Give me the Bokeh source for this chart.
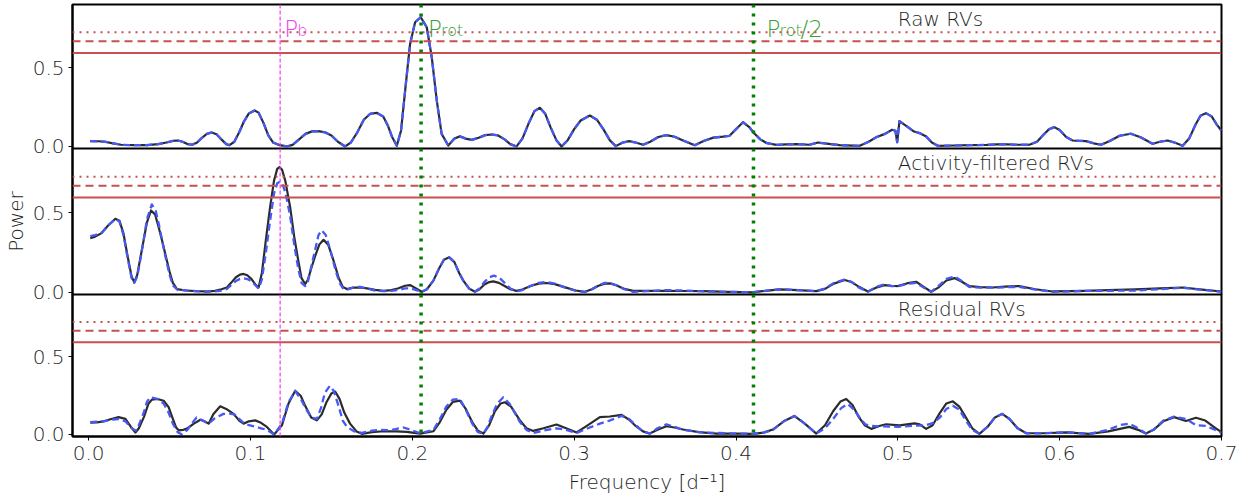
from bokeh.plotting import figure
from bokeh.layouts import column
from bokeh.models import FixedTicker, PrintfTickFormatter, Span, Range1d
from bokeh.core.properties import value
from bokeh.embed import file_html
from bokeh.resources import INLINE

# ---------------- data ----------------
# Raw RVs (both curves coincide)
raw = [(0.001, 0.034), (0.006, 0.033), (0.010, 0.030), (0.015, 0.020), (0.020, 0.011), (0.028, 0.008),
       (0.036, 0.008), (0.043, 0.015), (0.048, 0.025), (0.052, 0.035), (0.055, 0.038), (0.058, 0.030),
       (0.061, 0.015), (0.064, 0.011), (0.067, 0.025), (0.070, 0.055), (0.073, 0.080), (0.076, 0.089),
       (0.079, 0.078), (0.082, 0.045), (0.085, 0.015), (0.087, 0.008), (0.090, 0.030), (0.093, 0.090),
       (0.096, 0.160), (0.099, 0.210), (0.1025, 0.229), (0.105, 0.215), (0.108, 0.150), (0.111, 0.070),
       (0.114, 0.025), (0.118, 0.008), (0.1225, 0.000), (0.126, 0.010), (0.130, 0.045), (0.134, 0.080),
       (0.138, 0.096), (0.142, 0.097), (0.146, 0.090), (0.150, 0.070), (0.154, 0.030), (0.1585, 0.000),
       (0.162, 0.025), (0.166, 0.090), (0.170, 0.170), (0.174, 0.208), (0.178, 0.214), (0.182, 0.190),
       (0.185, 0.130), (0.1875, 0.060), (0.1904, 0.004), (0.193, 0.100), (0.196, 0.400), (0.1986, 0.652),
       (0.2017, 0.790), (0.2052, 0.822), (0.2089, 0.758), (0.212, 0.567), (0.2151, 0.292), (0.2181, 0.080),
       (0.2222, 0.006), (0.226, 0.050), (0.2294, 0.064), (0.233, 0.050), (0.2367, 0.042), (0.241, 0.055),
       (0.245, 0.072), (0.249, 0.076), (0.253, 0.070), (0.257, 0.045), (0.2605, 0.015), (0.2644, 0.000),
       (0.268, 0.050), (0.272, 0.150), (0.2755, 0.225), (0.2788, 0.246), (0.282, 0.210), (0.2855, 0.120),
       (0.289, 0.040), (0.2922, 0.000), (0.296, 0.040), (0.300, 0.110), (0.304, 0.165), (0.3097, 0.197),
       (0.314, 0.170), (0.318, 0.110), (0.322, 0.040), (0.3257, 0.002), (0.330, 0.025), (0.334, 0.034),
       (0.338, 0.025), (0.3426, 0.011), (0.347, 0.030), (0.352, 0.060), (0.357, 0.072), (0.362, 0.062),
       (0.368, 0.035), (0.3745, 0.008), (0.380, 0.035), (0.386, 0.056), (0.392, 0.062), (0.396, 0.068),
       (0.400, 0.110), (0.4043, 0.154), (0.408, 0.125), (0.4115, 0.081), (0.415, 0.045), (0.4188, 0.022),
       (0.425, 0.010), (0.431, 0.013), (0.4373, 0.015), (0.4455, 0.011), (0.4506, 0.025), (0.456, 0.018),
       (0.464, 0.008), (0.4764, 0.004), (0.482, 0.030), (0.4867, 0.059), (0.492, 0.080), (0.4965, 0.106),
       (0.4985, 0.100), (0.4996, 0.027), (0.501, 0.161), (0.506, 0.125), (0.510, 0.095), (0.5134, 0.085),
       (0.5175, 0.064), (0.521, 0.025), (0.5247, 0.004), (0.535, 0.006), (0.544, 0.008), (0.555, 0.010),
       (0.5647, 0.015), (0.573, 0.011), (0.5813, 0.011), (0.586, 0.030), (0.590, 0.075), (0.5935, 0.110),
       (0.5967, 0.123), (0.600, 0.105), (0.604, 0.060), (0.608, 0.038), (0.612, 0.036), (0.6163, 0.034),
       (0.621, 0.020), (0.6256, 0.011), (0.631, 0.035), (0.637, 0.068), (0.644, 0.081), (0.650, 0.058),
       (0.6574, 0.017), (0.662, 0.030), (0.6667, 0.038), (0.671, 0.025), (0.676, 0.004), (0.680, 0.050),
       (0.684, 0.140), (0.687, 0.195), (0.6904, 0.212), (0.694, 0.190), (0.697, 0.140), (0.700, 0.100)]
raw_f = [a for a, _ in raw]
raw_p = [b for _, b in raw]

# Activity-filtered RVs
act_black = [(0.001, 0.340), (0.004, 0.350), (0.008, 0.372), (0.012, 0.420), (0.0165, 0.462), (0.019, 0.450),
             (0.0215, 0.370), (0.024, 0.230), (0.0265, 0.100), (0.0282, 0.063), (0.030, 0.110), (0.032, 0.220),
             (0.034, 0.330), (0.036, 0.440), (0.0385, 0.514), (0.041, 0.490), (0.0432, 0.410), (0.0455, 0.320),
             (0.0473, 0.242), (0.050, 0.130), (0.052, 0.060), (0.0546, 0.021), (0.060, 0.012), (0.066, 0.008),
             (0.073, 0.006), (0.078, 0.010), (0.082, 0.020), (0.0854, 0.031), (0.088, 0.060), (0.091, 0.095),
             (0.0935, 0.112), (0.0957, 0.116), (0.098, 0.108), (0.1005, 0.085), (0.103, 0.050), (0.105, 0.031),
             (0.107, 0.120), (0.1095, 0.330), (0.1121, 0.535), (0.1145, 0.700), (0.1165, 0.775), (0.1179, 0.787),
             (0.1195, 0.770), (0.1215, 0.700), (0.1245, 0.535), (0.127, 0.350), (0.1295, 0.200), (0.1315, 0.090),
             (0.1338, 0.053), (0.1355, 0.080), (0.1375, 0.150), (0.140, 0.230), (0.1425, 0.300), (0.1451, 0.330),
             (0.148, 0.300), (0.1513, 0.200), (0.1545, 0.090), (0.157, 0.035), (0.1595, 0.021), (0.1635, 0.030),
             (0.1677, 0.031), (0.172, 0.025), (0.177, 0.016), (0.1821, 0.010), (0.187, 0.015), (0.191, 0.025),
             (0.1955, 0.042), (0.1985, 0.046), (0.2015, 0.030), (0.2058, 0.004), (0.209, 0.020), (0.213, 0.074),
             (0.2165, 0.150), (0.2195, 0.205), (0.2228, 0.220), (0.226, 0.190), (0.229, 0.120), (0.2315, 0.074),
             (0.235, 0.025), (0.2387, 0.004), (0.2415, 0.020), (0.2445, 0.050), (0.2475, 0.065), (0.250, 0.069),
             (0.2535, 0.060), (0.257, 0.040), (0.2605, 0.020), (0.2644, 0.010), (0.268, 0.018), (0.273, 0.040),
             (0.278, 0.055), (0.2829, 0.059), (0.288, 0.052), (0.295, 0.030), (0.301, 0.012), (0.3066, 0.004),
             (0.311, 0.020), (0.315, 0.042), (0.319, 0.055), (0.322, 0.057), (0.326, 0.045), (0.331, 0.022),
             (0.3364, 0.010), (0.345, 0.010), (0.357, 0.010), (0.368, 0.009), (0.380, 0.008), (0.395, 0.004),
             (0.4105, 0.000), (0.418, 0.010), (0.427, 0.019), (0.438, 0.015), (0.4496, 0.008), (0.455, 0.022),
             (0.4605, 0.055), (0.4671, 0.078), (0.4715, 0.065), (0.476, 0.035), (0.4815, 0.006), (0.4865, 0.030),
             (0.4918, 0.046), (0.496, 0.042), (0.500, 0.040), (0.506, 0.058), (0.5113, 0.067), (0.516, 0.035),
             (0.5206, 0.004), (0.525, 0.030), (0.530, 0.075), (0.535, 0.090), (0.539, 0.070), (0.544, 0.040),
             (0.551, 0.033), (0.5587, 0.031), (0.566, 0.036), (0.575, 0.040), (0.585, 0.020), (0.5957, 0.006),
             (0.606, 0.008), (0.616, 0.010), (0.630, 0.014), (0.647, 0.019), (0.662, 0.026), (0.676, 0.031),
             (0.688, 0.018), (0.700, 0.006)]
act_blue = [(0.001, 0.353), (0.004, 0.360), (0.008, 0.375), (0.012, 0.420), (0.0165, 0.460), (0.019, 0.445),
            (0.0215, 0.360), (0.024, 0.220), (0.0265, 0.090), (0.0282, 0.060), (0.030, 0.100), (0.032, 0.210),
            (0.034, 0.330), (0.036, 0.460), (0.039, 0.552), (0.0415, 0.510), (0.0435, 0.420), (0.0455, 0.320),
            (0.0473, 0.230), (0.050, 0.110), (0.052, 0.045), (0.055, 0.015), (0.060, 0.013), (0.066, 0.008),
            (0.073, 0.004), (0.078, 0.006), (0.082, 0.012), (0.0854, 0.022), (0.088, 0.045), (0.091, 0.072),
            (0.0935, 0.085), (0.0957, 0.088), (0.098, 0.084), (0.1005, 0.070), (0.103, 0.045), (0.105, 0.025),
            (0.107, 0.080), (0.1095, 0.250), (0.1121, 0.450), (0.1145, 0.620), (0.1165, 0.685), (0.1179, 0.693),
            (0.1195, 0.685), (0.1215, 0.630), (0.1245, 0.480), (0.127, 0.300), (0.1295, 0.150), (0.1315, 0.060),
            (0.1338, 0.040), (0.1355, 0.070), (0.1375, 0.160), (0.140, 0.270), (0.142, 0.360), (0.144, 0.389),
            (0.1465, 0.360), (0.1495, 0.260), (0.1525, 0.140), (0.155, 0.060), (0.1575, 0.020), (0.1605, 0.020),
            (0.1645, 0.035), (0.1677, 0.035), (0.172, 0.025), (0.177, 0.012), (0.1821, 0.008), (0.187, 0.010),
            (0.191, 0.015), (0.1955, 0.025), (0.1985, 0.025), (0.2015, 0.018), (0.2058, 0.003), (0.209, 0.020),
            (0.213, 0.074), (0.2165, 0.150), (0.2195, 0.205), (0.2228, 0.220), (0.226, 0.190), (0.229, 0.120),
            (0.2315, 0.074), (0.235, 0.025), (0.2387, 0.006), (0.2415, 0.025), (0.2445, 0.065), (0.2475, 0.095),
            (0.2504, 0.105), (0.2535, 0.095), (0.257, 0.060), (0.2605, 0.025), (0.2644, 0.008), (0.268, 0.015),
            (0.273, 0.040), (0.278, 0.060), (0.2829, 0.065), (0.288, 0.055), (0.295, 0.028), (0.301, 0.010),
            (0.3066, 0.002), (0.311, 0.020), (0.315, 0.045), (0.319, 0.060), (0.322, 0.060), (0.326, 0.045),
            (0.331, 0.020), (0.3364, 0.004), (0.345, 0.008), (0.357, 0.015), (0.368, 0.012), (0.380, 0.006),
            (0.395, 0.003), (0.4105, 0.002), (0.418, 0.010), (0.427, 0.020), (0.438, 0.015), (0.4496, 0.008),
            (0.455, 0.025), (0.4605, 0.060), (0.4671, 0.080), (0.4715, 0.065), (0.476, 0.030), (0.4815, 0.004),
            (0.4865, 0.035), (0.4918, 0.050), (0.496, 0.040), (0.500, 0.038), (0.506, 0.055), (0.5113, 0.060),
            (0.516, 0.030), (0.5206, 0.004), (0.525, 0.040), (0.530, 0.085), (0.535, 0.100), (0.539, 0.075),
            (0.544, 0.035), (0.551, 0.030), (0.5587, 0.030), (0.566, 0.032), (0.575, 0.035), (0.585, 0.018),
            (0.5957, 0.004), (0.606, 0.006), (0.616, 0.010), (0.630, 0.010), (0.647, 0.012), (0.662, 0.020),
            (0.676, 0.030), (0.688, 0.016), (0.700, 0.004)]
act_black_f = [a for a, _ in act_black]
act_black_p = [b for _, b in act_black]
act_blue_f = [a for a, _ in act_blue]
act_blue_p = [b for _, b in act_blue]

# Residual RVs
res_black = [(0.001, 0.076), (0.005, 0.078), (0.0093, 0.085), (0.014, 0.100), (0.0185, 0.112), (0.0227, 0.101),
             (0.026, 0.050), (0.0289, 0.013), (0.031, 0.040), (0.0341, 0.112), (0.037, 0.200), (0.0391, 0.225),
             (0.0425, 0.229), (0.0463, 0.218), (0.0494, 0.176), (0.052, 0.100), (0.054, 0.045), (0.0556, 0.027),
             (0.0585, 0.030), (0.0607, 0.038), (0.065, 0.070), (0.069, 0.095), (0.0715, 0.085), (0.0741, 0.070),
             (0.077, 0.130), (0.0813, 0.182), (0.085, 0.165), (0.0895, 0.133), (0.093, 0.090), (0.0957, 0.070),
             (0.099, 0.085), (0.1029, 0.091), (0.1065, 0.075), (0.1101, 0.049), (0.1146, 0.000), (0.1194, 0.059),
             (0.1235, 0.200), (0.1276, 0.282), (0.131, 0.250), (0.134, 0.180), (0.1375, 0.110), (0.141, 0.091),
             (0.144, 0.130), (0.147, 0.210), (0.150, 0.265), (0.1523, 0.277), (0.155, 0.230), (0.158, 0.140),
             (0.1615, 0.070), (0.1655, 0.020), (0.1688, 0.004), (0.175, 0.015), (0.1823, 0.021), (0.190, 0.020),
             (0.1965, 0.017), (0.2048, 0.006), (0.2131, 0.021), (0.217, 0.080), (0.221, 0.160), (0.225, 0.210),
             (0.2294, 0.218), (0.233, 0.165), (0.237, 0.080), (0.2405, 0.025), (0.2439, 0.006), (0.2475, 0.060),
             (0.251, 0.150), (0.2545, 0.200), (0.2572, 0.208), (0.261, 0.180), (0.2665, 0.091), (0.2705, 0.040),
             (0.2747, 0.023), (0.281, 0.040), (0.2891, 0.064), (0.295, 0.040), (0.3015, 0.013), (0.3085, 0.060),
             (0.3159, 0.112), (0.322, 0.116), (0.3293, 0.127), (0.334, 0.095), (0.338, 0.055), (0.3425, 0.020),
             (0.3467, 0.006), (0.3515, 0.030), (0.357, 0.053), (0.362, 0.045), (0.3673, 0.032), (0.377, 0.015),
             (0.388, 0.006), (0.400, 0.005), (0.4105, 0.004), (0.417, 0.012), (0.4228, 0.032), (0.4295, 0.085),
             (0.4362, 0.119), (0.4425, 0.070), (0.4496, 0.006), (0.455, 0.060), (0.460, 0.150), (0.4645, 0.212),
             (0.4681, 0.229), (0.472, 0.190), (0.476, 0.110), (0.4795, 0.060), (0.4836, 0.036), (0.4885, 0.055),
             (0.4928, 0.066), (0.501, 0.059), (0.5103, 0.072), (0.5135, 0.065), (0.5175, 0.036), (0.5215, 0.060),
             (0.526, 0.140), (0.530, 0.200), (0.534, 0.214), (0.538, 0.180), (0.542, 0.110), (0.546, 0.040),
             (0.5504, 0.004), (0.5555, 0.050), (0.560, 0.110), (0.5645, 0.133), (0.569, 0.100), (0.574, 0.040),
             (0.5794, 0.008), (0.590, 0.008), (0.604, 0.013), (0.6183, 0.004), (0.630, 0.020), (0.643, 0.049),
             (0.6485, 0.030), (0.6533, 0.006), (0.658, 0.030), (0.664, 0.085), (0.6708, 0.112), (0.678, 0.087),
             (0.6842, 0.108), (0.690, 0.090), (0.695, 0.050), (0.700, 0.015)]
res_blue = [(0.001, 0.080), (0.005, 0.082), (0.0093, 0.085), (0.014, 0.095), (0.0185, 0.100), (0.0227, 0.085),
            (0.026, 0.045), (0.029, 0.025), (0.031, 0.060), (0.034, 0.140), (0.036, 0.210), (0.038, 0.240),
            (0.0425, 0.230), (0.0463, 0.200), (0.0494, 0.140), (0.052, 0.070), (0.055, 0.015), (0.0577, 0.000),
            (0.061, 0.030), (0.064, 0.075), (0.0667, 0.110), (0.0705, 0.090), (0.0741, 0.070), (0.078, 0.105),
            (0.0833, 0.133), (0.087, 0.135), (0.090, 0.130), (0.093, 0.100), (0.0957, 0.075), (0.099, 0.060),
            (0.1029, 0.050), (0.1065, 0.040), (0.1101, 0.030), (0.1146, 0.000), (0.1194, 0.070), (0.1235, 0.210),
            (0.1276, 0.280), (0.131, 0.230), (0.134, 0.170), (0.1375, 0.110), (0.141, 0.100), (0.1435, 0.170),
            (0.146, 0.270), (0.149, 0.313), (0.1515, 0.280), (0.1545, 0.180), (0.157, 0.090), (0.1595, 0.050),
            (0.164, 0.020), (0.1688, 0.010), (0.175, 0.025), (0.180, 0.030), (0.1865, 0.028), (0.1945, 0.045),
            (0.199, 0.030), (0.2048, 0.008), (0.2131, 0.030), (0.217, 0.100), (0.221, 0.180), (0.225, 0.225),
            (0.2294, 0.229), (0.233, 0.160), (0.237, 0.070), (0.2405, 0.015), (0.2439, 0.005), (0.2465, 0.050),
            (0.249, 0.120), (0.2525, 0.200), (0.2562, 0.240), (0.260, 0.200), (0.2665, 0.080), (0.2705, 0.030),
            (0.2747, 0.010), (0.281, 0.025), (0.2891, 0.040), (0.295, 0.030), (0.3015, 0.010), (0.3085, 0.040),
            (0.3159, 0.070), (0.322, 0.090), (0.3293, 0.120), (0.334, 0.100), (0.338, 0.060), (0.3425, 0.020),
            (0.3467, 0.005), (0.3515, 0.040), (0.357, 0.065), (0.362, 0.050), (0.3673, 0.030), (0.377, 0.015),
            (0.388, 0.010), (0.400, 0.006), (0.4105, 0.004), (0.417, 0.012), (0.4228, 0.030), (0.4295, 0.085),
            (0.4362, 0.120), (0.4425, 0.070), (0.4496, 0.006), (0.455, 0.040), (0.460, 0.100), (0.465, 0.170),
            (0.469, 0.197), (0.473, 0.160), (0.477, 0.100), (0.480, 0.065), (0.4836, 0.055), (0.490, 0.052),
            (0.500, 0.050), (0.5085, 0.055), (0.5175, 0.060), (0.522, 0.075), (0.526, 0.110), (0.530, 0.165),
            (0.534, 0.186), (0.538, 0.160), (0.542, 0.090), (0.546, 0.030), (0.5504, 0.004), (0.5555, 0.050),
            (0.560, 0.110), (0.5645, 0.133), (0.569, 0.100), (0.574, 0.040), (0.5794, 0.008), (0.590, 0.008),
            (0.604, 0.015), (0.6183, 0.004), (0.630, 0.030), (0.637, 0.060), (0.643, 0.070), (0.6485, 0.040),
            (0.6533, 0.006), (0.658, 0.030), (0.664, 0.090), (0.6708, 0.115), (0.678, 0.100), (0.6842, 0.060),
            (0.690, 0.055), (0.695, 0.035), (0.700, 0.010)]
res_black_f = [a for a, _ in res_black]
res_black_p = [b for _, b in res_black]
res_blue_f = [a for a, _ in res_blue]
res_blue_p = [b for _, b in res_blue]

panel_titles = ["Raw RVs", "Activity-filtered RVs", "Residual RVs"]
fap_levels = [0.595, 0.669, 0.726]          # solid, dashed, dotted
f_planet_b = 0.1183
f_rot = 0.2054
f_rot_half = 0.4108
x_ticks = [0.0, 0.1, 0.2, 0.3, 0.4, 0.5, 0.6, 0.7]
y_ticks = [0.0, 0.5]

# ---------------- style ----------------
FONT = "DejaVu Sans Light, DejaVu Sans"
TXT = "#1e1e1e"
RED = "#c8504e"
BLUE = "#4658f5"
BLACK = "#2b2b2b"
MAGENTA = "#f03cf0"
GREEN_LINE = "#008000"
GREEN_TXT = "#3a9e3a"

LEFT, RIGHT = 64, 24
W = 1221 + RIGHT
OV = 12          # overlap strip so the "0.0" labels are not cut
xr = Range1d(-0.01, 0.7)


def make_panel(title, bf, bp, uf, up, frame_h, top, bottom, show_x, overlap, ylabel=None):
    p = figure(width=W, height=frame_h + top + bottom, x_range=xr,
               y_range=Range1d(-0.013, 0.903), output_backend="svg",
               toolbar_location=None, x_axis_location="below" if show_x else None,
               min_border_left=LEFT, min_border_right=RIGHT,
               min_border_top=top, min_border_bottom=bottom)
    if overlap:
        p.margin = (-OV, 0, 0, 0)
    p.outline_line_color = "black"
    p.outline_line_width = 2
    p.outline_line_alpha = 1
    p.xgrid.visible = False
    p.ygrid.visible = False
    p.background_fill_color = "white"
    p.border_fill_alpha = 0

    ya = p.yaxis[0]
    ya.ticker = FixedTicker(ticks=y_ticks, minor_ticks=[])
    ya.formatter = PrintfTickFormatter(format="%.1f")
    ya.major_tick_out = 4
    ya.major_tick_in = 0
    ya.major_tick_line_color = "black"
    ya.major_tick_line_width = 1
    ya.axis_line_color = "black"
    ya.axis_line_width = 2
    ya.major_label_text_font = FONT
    ya.major_label_text_font_size = "20px"
    ya.major_label_text_color = TXT
    ya.major_label_standoff = 4
    if ylabel:
        ya.axis_label = ylabel
        ya.axis_label_text_font = FONT
        ya.axis_label_text_font_size = "20px"
        ya.axis_label_text_font_style = "normal"
        ya.axis_label_text_color = TXT
        ya.axis_label_standoff = 2

    if show_x:
        xa = p.xaxis[0]
        xa.ticker = FixedTicker(ticks=x_ticks, minor_ticks=[])
        xa.formatter = PrintfTickFormatter(format="%.1f")
        xa.major_tick_out = 4
        xa.major_tick_in = 0
        xa.axis_line_color = "black"
        xa.axis_line_width = 2
        xa.major_label_text_font = FONT
        xa.major_label_text_font_size = "20px"
        xa.major_label_text_color = TXT
        xa.major_label_standoff = 5
        xa.axis_label = "Frequency [d\u207b\u00b9]"
        xa.axis_label_text_font = FONT
        xa.axis_label_text_font_size = "20px"
        xa.axis_label_text_font_style = "normal"
        xa.axis_label_text_color = TXT
        xa.axis_label_standoff = 7

    p.line(bf, bp, line_color=BLACK, line_width=2.2, line_join="round")
    p.line(uf, up, line_color=BLUE, line_width=2.3, line_dash="7 4", line_join="round")

    for lvl, dash in zip(fap_levels, ["solid", "8 5", "2 5"]):
        p.add_layout(Span(location=lvl, dimension="width", line_color=RED,
                          line_width=2, line_dash=dash))
    p.add_layout(Span(location=f_planet_b, dimension="height", line_color=MAGENTA,
                      line_width=1.2, line_dash="4 2"))
    for fl in (f_rot, f_rot_half):
        p.add_layout(Span(location=fl, dimension="height", line_color=GREEN_LINE,
                          line_width=3.5, line_dash="3 6"))

    p.text(x=[0.5], y=[0.81], text=[title], text_font=value(FONT), text_font_size="20px",
           text_align="left", text_baseline="middle", text_color=TXT)
    return p


p1 = make_panel(panel_titles[0], raw_f, raw_p, raw_f, raw_p, 144, 4, OV, False, False)
p2 = make_panel(panel_titles[1], act_black_f, act_black_p, act_blue_f, act_blue_p, 146, 0, OV, False, True,
                "Power")
p3 = make_panel(panel_titles[2], res_black_f, res_black_p, res_blue_f, res_blue_p, 144, 0, 58, True, True)


def lab(p, x, xo, y, t, size, color):
    p.text(x=[x], y=[y], text=[t], x_offset=xo, text_font=value(FONT), text_font_size=size,
           text_align="left", text_baseline="alphabetic", text_color=color)


lab(p1, f_planet_b, 4, 0.75, "P", "23px", MAGENTA)
lab(p1, f_planet_b, 17, 0.737, "b", "16px", MAGENTA)
lab(p1, f_rot, 7, 0.75, "P", "23px", GREEN_TXT)
lab(p1, f_rot, 20, 0.737, "rot", "16px", GREEN_TXT)
lab(p1, f_rot_half, 13, 0.75, "P", "23px", GREEN_TXT)
lab(p1, f_rot_half, 26, 0.737, "rot", "16px", GREEN_TXT)
lab(p1, f_rot_half, 47, 0.75, "/2", "23px", GREEN_TXT)

layout = column(p1, p2, p3, spacing=0)
open("out.html", "w").write(file_html(layout, INLINE))
